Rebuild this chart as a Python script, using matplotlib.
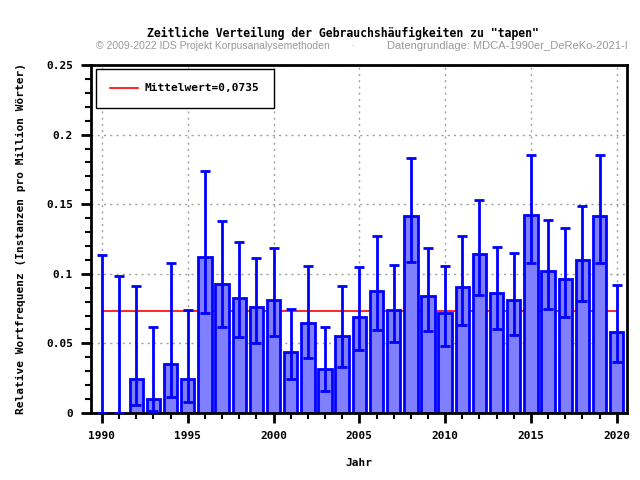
import matplotlib
matplotlib.use("Agg")
import matplotlib.pyplot as plt
from matplotlib.ticker import MultipleLocator, FixedLocator

years = list(range(1990, 2021))
values = [0.0, 0.0, 0.0243, 0.0101, 0.0355, 0.0247, 0.1121, 0.0927, 0.0824, 0.0759,
          0.0809, 0.0435, 0.0650, 0.0319, 0.0550, 0.0687, 0.0874, 0.0737, 0.1415, 0.0838,
          0.0716, 0.0903, 0.1140, 0.0860, 0.0809, 0.1422, 0.1018, 0.0960, 0.1097, 0.1415,
          0.0579]
lower = [0.0, 0.0, 0.0058, 0.0014, 0.0118, 0.0079, 0.0716, 0.0620, 0.0548, 0.0504,
         0.0555, 0.0245, 0.0396, 0.0159, 0.0327, 0.0449, 0.0598, 0.0507, 0.1088, 0.0591,
         0.0483, 0.0634, 0.0850, 0.0605, 0.0562, 0.1080, 0.0749, 0.0692, 0.0807, 0.1074,
         0.0367]
upper = [0.1138, 0.0987, 0.0915, 0.0615, 0.1076, 0.0742, 0.1736, 0.1376, 0.1225, 0.1117,
         0.1182, 0.0749, 0.1054, 0.0620, 0.0915, 0.1047, 0.1270, 0.1066, 0.1830, 0.1182,
         0.1059, 0.1270, 0.1530, 0.1196, 0.1148, 0.1852, 0.1386, 0.1326, 0.1487, 0.1852,
         0.0917]
mean_value = 0.0735
title = 'Zeitliche Verteilung der Gebrauchshäufigkeiten zu "tapen"'
subtitle_left = "© 2009-2022 IDS Projekt Korpusanalysemethoden"
subtitle_right = "Datengrundlage: MDCA-1990er_DeReKo-2021-I"
xlabel = "Jahr"
ylabel = "Relative Wortfrequenz (Instanzen pro Million Wörter)"
legend_label = "Mittelwert=0,0735"
ytick_vals = [0, 0.05, 0.1, 0.15, 0.2, 0.25]
ytick_labels = ["0", "0.05", "0.1", "0.15", "0.2", "0.25"]
xtick_vals = [1990, 1995, 2000, 2005, 2010, 2015, 2020]

mono = "DejaVu Sans Mono"

fig = plt.figure(figsize=(6.4, 4.8), dpi=100)
W, H = 640, 480
left, right, top, bottom = 91, 627, 65, 413
ax = fig.add_axes([left / W, (H - bottom) / H, (right - left) / W, (bottom - top) / H])

ax.set_xlim(1989.36, 2020.6)
ax.set_ylim(0, 0.25)

ax.grid(True, color="#a0a0a0", linestyle=(0, (1.5, 3)), linewidth=1.0, zorder=0)
ax.set_axisbelow(True)

ax.plot([years[0], years[-1]], [mean_value, mean_value], color="red", linewidth=1.2,
        zorder=1, label=legend_label)

ax.bar(years, values, width=0.78, color="#8080ff", edgecolor="#0000ff", linewidth=2,
       zorder=2)
yerr = [[v - l for v, l in zip(values, lower)], [u - v for v, u in zip(values, upper)]]
ax.errorbar(years, values, yerr=yerr, fmt="none", ecolor="#0000ff", elinewidth=2,
            capsize=3.3, capthick=2, zorder=3)

ax.yaxis.set_major_locator(FixedLocator(ytick_vals))
ax.set_yticklabels(ytick_labels)
ax.yaxis.set_minor_locator(MultipleLocator(0.01))
ax.xaxis.set_major_locator(FixedLocator(xtick_vals))
ax.set_xticklabels([str(x) for x in xtick_vals])
ax.xaxis.set_minor_locator(MultipleLocator(1))

for lab in ax.get_xticklabels() + ax.get_yticklabels():
    lab.set_fontfamily(mono)
    lab.set_fontweight("bold")
    lab.set_fontsize(8)

ax.tick_params(which="major", direction="out", length=7, width=2, pad=6)
ax.tick_params(which="minor", direction="out", length=4, width=1.5)
for s in ax.spines.values():
    s.set_linewidth(2)
    s.set_color("black")

ax.set_xlabel(xlabel, fontfamily=mono, fontweight="bold", fontsize=8, labelpad=12)
ax.set_ylabel(ylabel, fontfamily=mono, fontweight="bold", fontsize=8, labelpad=14)

fig.text(343 / W, 1 - 33 / H, title, ha="center", va="center",
         fontfamily=mono, fontweight="bold", fontsize=8.3)
fig.text(96 / W, 1 - 46 / H, subtitle_left, ha="left", va="center",
         fontfamily="Liberation Sans", fontsize=7.5, color="#999999")
fig.text(352 / W, 1 - 46 / H, "·", ha="center", va="center",
         fontfamily="Liberation Sans", fontsize=7.5, color="#999999")
fig.text(628 / W, 1 - 46 / H, subtitle_right, ha="right", va="center",
         fontfamily="Liberation Sans", fontsize=8.0, color="#999999")

leg = ax.legend(loc="upper left", bbox_to_anchor=(5 / 536, 1 - 4 / 348), frameon=True,
                fancybox=False, edgecolor="black", framealpha=1,
                prop={"family": mono, "weight": "bold", "size": 8},
                borderpad=1.3, borderaxespad=0, handlelength=2.5, handletextpad=0.6)
leg.get_frame().set_linewidth(1)

fig.savefig("out.png", dpi=100)
